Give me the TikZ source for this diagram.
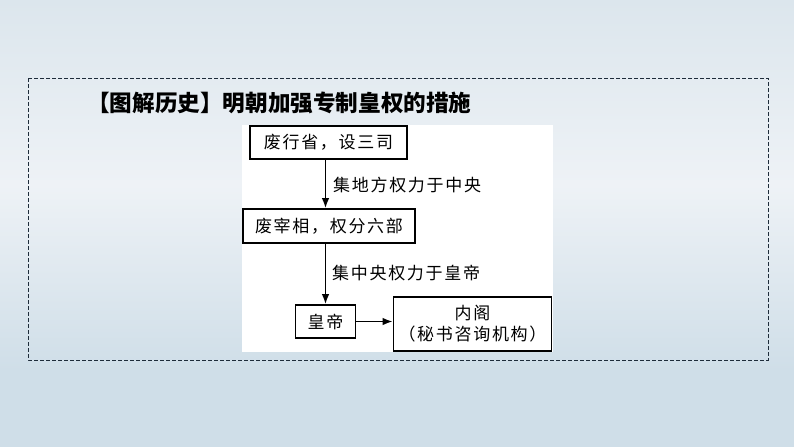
\documentclass[tikz,border=0pt]{standalone}
\usepackage{fontspec}
\usetikzlibrary{arrows.meta,calc}
\newfontfamily\cjk{Noto Sans CJK SC}
\newfontfamily\cjkls{Noto Sans CJK SC}[LetterSpace=10]
\definecolor{bgtop}{HTML}{DCE6ED}
\definecolor{bgmid}{HTML}{EEF2F6}
\definecolor{bgbot}{HTML}{CFDEE8}
\definecolor{dashcol}{HTML}{1E2C3A}
\tikzset{
  box/.style={draw=black, line width=1.7pt, fill=white, inner sep=0pt, align=center,
    font=\cjkls\fontsize{17}{21}\selectfont},
  lbl/.style={anchor=west, inner sep=0pt, font=\cjkls\fontsize{17}{21}\selectfont},
  arr/.style={line width=1.5pt, -{Latex[length=10pt,width=7.5pt]}},
}
\begin{document}
\begin{tikzpicture}[x=1pt,y=-1pt]
\useasboundingbox (0,0) rectangle (794,447);
% background
\fill[bgbot] (0,0) rectangle (794,447);
\shade[top color=bgtop, bottom color=bgbot, middle color=bgmid] (0,0) rectangle (794,370);
% dashed frame
\draw[dashcol, line width=0.9pt, dash pattern=on 4pt off 2pt] (28,78) rectangle (768,360);
% title
\node[anchor=west, inner sep=0pt, font=\cjk\bfseries\fontsize{22.6}{26}\selectfont] (title) at (87,103) {【图解历史】明朝加强专制皇权的措施};
% white panel
\fill[white] (242,125) rectangle (553,352);
% boxes
\node[box, minimum width=157pt, minimum height=33pt] (b1) at (328.5,142.5) {废行省，设三司};
\node[box, minimum width=172pt, minimum height=34pt] (b2) at (329,226) {废宰相，权分六部};
\node[box, minimum width=60pt, minimum height=33pt] (b3) at (325.5,321.5) {皇帝};
\node[box, minimum width=158pt, minimum height=54pt] (b4) at (472.5,324) {内阁\\（秘书咨询机构）};
% arrows
\draw[arr] (b1.south -| b3.north) -- (b2.north -| b3.north);
\draw[arr] (b2.south -| b3.north) -- (b3.north);
\draw[arr] (b3.east) -- (b3.east -| b4.west);
% labels
\node[lbl] (l1) at (333,185) {集地方权力于中央};
\node[lbl] (l2) at (332,273) {集中央权力于皇帝};
\end{tikzpicture}
\end{document}
